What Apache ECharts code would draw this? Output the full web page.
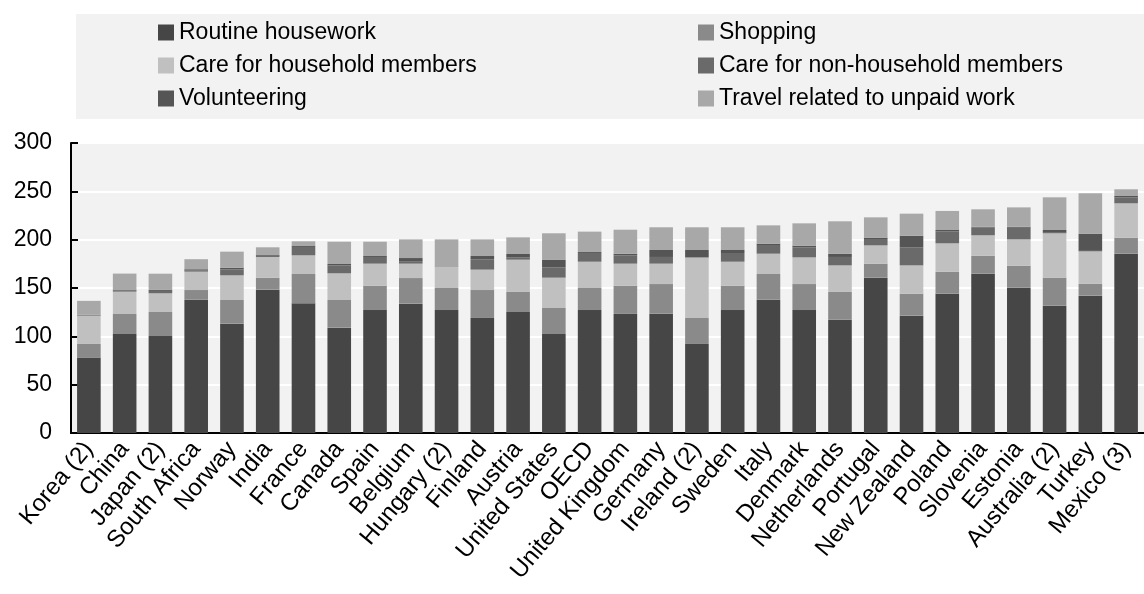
<!DOCTYPE html>
<html>
<head>
<meta charset="utf-8">
<script src="https://cdn.jsdelivr.net/npm/echarts@6/dist/echarts.min.js"></script>
<style>html,body{margin:0;padding:0;background:#fff}#c{width:1144px;height:594px}</style>
</head>
<body>
<div id="c"></div>
<script>
const categories = ['Korea (2)','China','Japan (2)','South Africa','Norway','India','France','Canada','Spain','Belgium','Hungary (2)','Finland','Austria','United States','OECD','United Kingdom','Germany','Ireland (2)','Sweden','Italy','Denmark','Netherlands','Portugal','New Zealand','Poland','Slovenia','Estonia','Australia (2)','Turkey','Mexico (3)'];
const routine = [78,102.4,100.3,137.9,113.1,148.3,134.1,109,127.2,133.8,127.2,119,125.2,102.4,127.2,123.2,123.4,92.1,127.2,137.9,127.2,117.2,160.7,121.4,144.1,164.8,150.3,131.7,142.1,185.5];
const shopping = [14.1,20.7,24.9,10,24.5,12.4,30.4,28.6,25.2,26.5,22.8,28.9,20.7,26.9,22.8,29.2,30.7,26.9,25.2,26.6,26.9,28.7,14.5,22.7,22.8,18.6,22.8,29,12.4,16.6];
const careHousehold = [29.3,23.1,19.3,19,25.5,21.4,19.3,27.6,22.8,14.9,21.7,21.1,33.4,31.4,27.2,22.8,21.1,62.4,24.8,21,27.6,27.5,18.9,29.3,29.3,21.1,27.2,45.9,33.4,35.5];
const careNonHousehold = [0.7,1,2.5,1.5,6.2,1.2,8.6,8.2,6.9,2,0.3,10.7,2.5,10.7,9,8.6,6.9,0.5,9,9,10.4,8.7,6.6,18.7,12.4,8.3,12,0.5,0.5,6.2];
const volunteering = [0.3,0.7,1,1,1.7,0.8,1,1.4,1,3.8,0.3,3.4,3.4,7.6,1,1.7,7.2,7.4,3.1,1.4,1.7,3.4,1.4,12,1.4,0.5,1,2.9,17.8,1.4];
const travel = [14.3,17,16.8,10.4,16.6,8,4.9,23.1,14.8,19.3,28,17.2,17.2,27.6,21.1,24.8,23.5,23.5,23.5,18.9,23.1,33.5,21,22.8,19.7,18.1,20.1,33.8,41.7,6.9];
const yTicks = {min: 0, max: 300, interval: 50};

const names = ['Routine housework','Shopping','Care for household members','Care for non-household members','Volunteering','Travel related to unpaid work'];
const colors = ['#464646','#8a8a8a','#c0c0c0','#6a6a6a','#555555','#a8a8a8'];
const dataSets = [routine, shopping, careHousehold, careNonHousehold, volunteering, travel];

const font = 'Liberation Sans, Arial, sans-serif';
const chart = echarts.init(document.getElementById('c'));
chart.setOption({
  animation: false,
  backgroundColor: '#ffffff',
  color: colors,
  graphic: [{
    type: 'rect', left: 76, top: 14, z: -10,
    shape: {width: 1068, height: 105},
    style: {fill: '#f2f2f2'}
  }],
  legend: [{
    orient: 'vertical', left: 158, top: 21, padding: 0,
    itemWidth: 16, itemHeight: 16, itemGap: 10,
    icon: 'rect',
    data: [names[0], names[2], names[4]],
    textStyle: {fontFamily: font, fontSize: 23, color: '#000', lineHeight: 23}
  }, {
    orient: 'vertical', left: 698, top: 21, padding: 0,
    itemWidth: 16, itemHeight: 16, itemGap: 10,
    icon: 'rect',
    data: [names[1], names[3], names[5]],
    textStyle: {fontFamily: font, fontSize: 23, color: '#000', lineHeight: 23}
  }],
  grid: {
    left: 71, top: 143, bottom: 161, right: -13,
    show: true, backgroundColor: '#f2f2f2', borderWidth: 0, containLabel: false
  },
  xAxis: {
    type: 'category',
    data: categories,
    axisLine: {show: true, lineStyle: {color: '#000', width: 2}},
    axisTick: {show: false},
    axisLabel: {interval: 0, rotate: 50, margin: 12, color: '#000', fontFamily: font, fontSize: 24}
  },
  yAxis: {
    type: 'value',
    min: yTicks.min, max: yTicks.max, interval: yTicks.interval,
    axisLine: {show: true, lineStyle: {color: '#000', width: 2}},
    axisTick: {show: true, inside: true, length: 7, lineStyle: {color: '#000', width: 2}},
    axisLabel: {margin: 19, color: '#000', fontFamily: font, fontSize: 23},
    splitLine: {show: true, lineStyle: {color: '#ffffff', width: 2}}
  },
  series: dataSets.map((d, i) => ({
    name: names[i],
    type: 'bar',
    stack: 'total',
    data: d,
    barCategoryGap: '34%',
    itemStyle: {color: colors[i]}
  }))
});
</script>
</body>
</html>
